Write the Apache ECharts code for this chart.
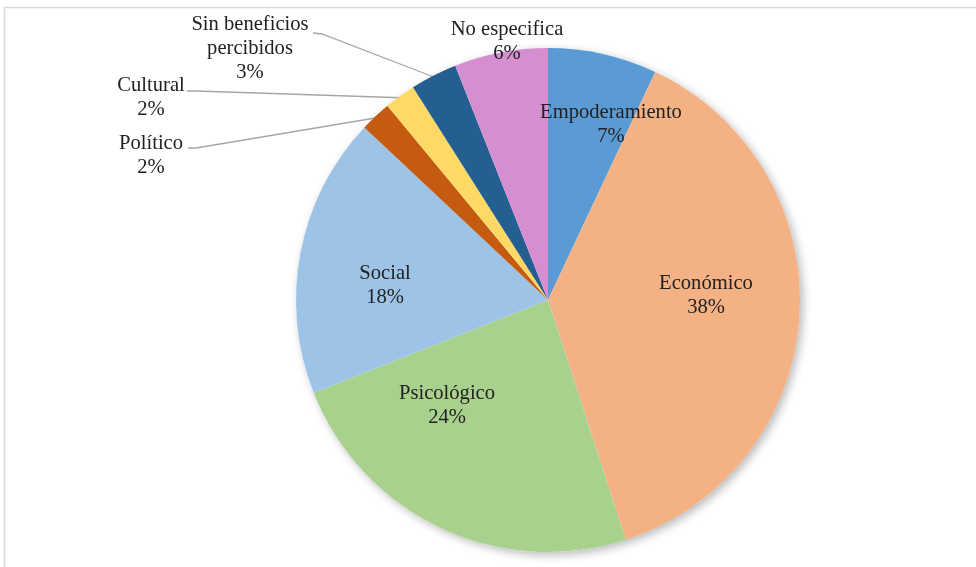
<!DOCTYPE html>
<html>
<head>
<meta charset="utf-8">
<script src="https://cdn.jsdelivr.net/npm/echarts@6/dist/echarts.min.js"></script>
<style>
  html, body { margin: 0; padding: 0; background: #ffffff; }
  #chart { width: 976px; height: 567px; }
</style>
</head>
<body>
<div id="chart"></div>
<script>
// Benefit categories, clockwise from 12 o'clock
const categories = [
  'Empoderamiento',
  'Económico',
  'Psicológico',
  'Social',
  'Político',
  'Cultural',
  'Sin beneficios\npercibidos',
  'No especifica'
];
// Share of responses (%)
const shares = [7, 38, 24, 18, 2, 2, 3, 6];

const sliceColors = ['#5b9bd5', '#f4b183', '#a9d18e', '#9dc3e6', '#c55a11', '#ffd966', '#255e91', '#d58fd0'];

const CENTER = [548, 300];
const RADIUS = 252;

// Where each label block is centred
const labelCenters = [
  [611, 125], [706, 296], [447, 406], [385, 286],
  [151, 156], [151, 98], [250, 49], [507, 42]
];
// Slices labelled outside get a leader line: text end, short tick, then the slice edge
const leaderStarts = {
  4: [[188, 148], [196, 148]],
  5: [[187, 91], [196, 91]],
  6: [[313, 33], [322, 34]]
};

const total = shares.reduce((a, b) => a + b, 0);

// Point on the outer arc at the middle of slice i
function sliceEdgePoint(i) {
  let cum = 0;
  for (let k = 0; k < i; k++) cum += shares[k];
  const a = (cum + shares[i] / 2) / total * 2 * Math.PI;
  const r = RADIUS - 2;
  return [CENTER[0] + r * Math.sin(a), CENTER[1] - r * Math.cos(a)];
}

const data = categories.map((name, i) => {
  const item = { name: name, value: shares[i], itemStyle: { color: sliceColors[i] } };
  if (leaderStarts[i]) {
    item.label = { position: 'outside' };
    item.labelLine = { show: true };
  }
  return item;
});

const chart = echarts.init(document.getElementById('chart'), null, { renderer: 'canvas' });

chart.setOption({
  animation: false,
  backgroundColor: '#ffffff',
  graphic: [{
    type: 'rect',
    shape: { x: 4.5, y: 7.5, width: 1200, height: 800 },
    style: { fill: 'none', stroke: '#d9d9d9', lineWidth: 1.5 },
    silent: true,
    z: -10
  }],
  series: [
    {
      // soft drop shadow under the whole disc
      type: 'pie',
      silent: true,
      center: CENTER,
      radius: RADIUS,
      z: 1,
      label: { show: false },
      labelLine: { show: false },
      emphasis: { disabled: true },
      itemStyle: {
        color: '#ffffff',
        shadowBlur: 10,
        shadowColor: 'rgba(0,0,0,0.28)',
        shadowOffsetX: 3,
        shadowOffsetY: 3
      },
      data: [{ name: 'total', value: total }]
    },
    {
      type: 'pie',
      center: CENTER,
      radius: RADIUS,
      startAngle: 90,
      clockwise: true,
      z: 2,
      avoidLabelOverlap: false,
      emphasis: { disabled: true },
      itemStyle: { borderWidth: 0 },
      label: {
        show: true,
        position: 'inside',
        formatter: p => p.name + '\n' + Math.round(p.percent) + '%',
        fontFamily: 'Liberation Serif',
        fontSize: 20.6,
        lineHeight: 24,
        color: '#222222',
        align: 'center'
      },
      labelLine: {
        show: false,
        smooth: false,
        lineStyle: { color: '#a6a6a6', width: 1.3 }
      },
      labelLayout: function (params) {
        const i = params.dataIndex;
        const c = labelCenters[i];
        const out = { x: c[0], y: c[1], align: 'center', verticalAlign: 'middle' };
        if (leaderStarts[i]) {
          out.labelLinePoints = [leaderStarts[i][0], leaderStarts[i][1], sliceEdgePoint(i)];
        }
        return out;
      },
      data: data
    }
  ]
});
</script>
</body>
</html>
